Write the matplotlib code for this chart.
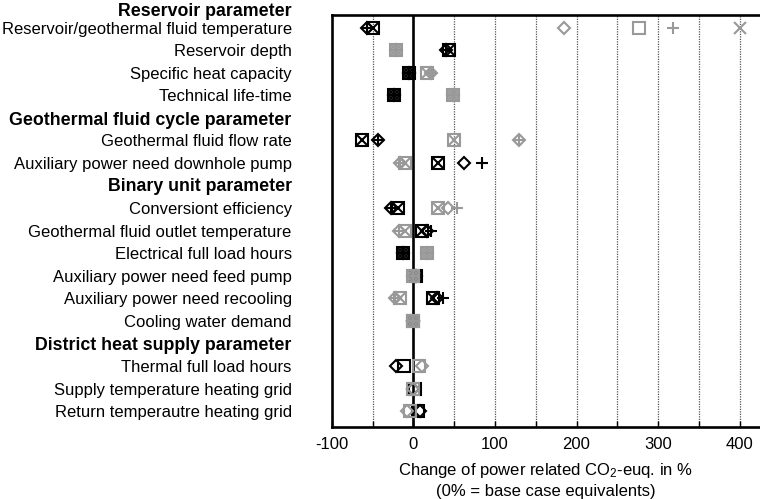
import numpy as np
import matplotlib
matplotlib.use("Agg")
import matplotlib.pyplot as plt

plt.rcParams['font.family'] = ['Liberation Sans', 'DejaVu Sans']
plt.rcParams['mathtext.fontset'] = 'custom'
plt.rcParams['mathtext.rm'] = 'Liberation Sans'
plt.rcParams['mathtext.it'] = 'Liberation Sans'

# --- rows (parameters) ---
labels = ['Reservoir/geothermal fluid temperature', 'Reservoir depth',
          'Specific heat capacity', 'Technical life-time',
          'Geothermal fluid flow rate', 'Auxiliary power need downhole pump',
          'Conversiont efficiency', 'Geothermal fluid outlet temperature',
          'Electrical full load hours', 'Auxiliary power need feed pump',
          'Auxiliary power need recooling', 'Cooling water demand',
          'Thermal full load hours', 'Supply temperature heating grid',
          'Return temperautre heating grid']
slots = [0, 1, 2, 3, 5, 6, 8, 9, 10, 11, 12, 13, 15, 16, 17]

headers = ['Reservoir parameter', 'Geothermal fluid cycle parameter',
           'Binary unit parameter', 'District heat supply parameter']
header_slots = [-0.72, 4.1, 7.05, 14.1]

nan = np.nan
# --- black markers (one variation) ---
low_D = [-57, 40, -6, -24, -43, 62, -27, 16, -13, 3, 29, 0, -21, 0, 8]
low_s = [-50, 44, -6, -24, -63, 30, -19, 11, -13, 3, 24, 0, -12, 2, 5]
low_p = [-57, 40, -6, -24, -43, 84, -27, 22, -13, 3, 36, 0, nan, nan, nan]
low_x = [-50, 44, -6, -24, -63, 30, -19, 11, -13, 3, 24, 0, nan, nan, nan]
# --- grey markers (other variation) ---
high_D = [184, -21, 21, 49, 129, -17, 42, -18, 16, 0, -23, 0, 10, 0, -8]
high_s = [277, -21, 17, 49, 50, -11, 30, -11, 16, 0, -16, 0, 7, -1, -4]
high_p = [318, -21, 21, 49, 129, -17, 53, -18, 16, 0, -23, 0, nan, nan, nan]
high_x = [401, -21, 17, 49, 50, -11, 30, -11, 16, 0, -16, 0, nan, nan, nan]

fig = plt.figure(figsize=(7.6, 4.99), dpi=100)
ax = fig.add_axes([0.4368, 0.1443, 0.5632, 0.8257])

# grid & zero line
for gx in [-50, 50, 100, 150, 200, 250, 300, 350, 400]:
    ax.axvline(gx, color='#555555', lw=0.9, ls=(0, (1, 1)), zorder=1)
ax.axvline(0, color='black', lw=1.9, zorder=2)

# markers
ms = 8.3
mew = 1.5
for vals, col in [((low_D, low_s, low_p, low_x), 'black'),
                  ((high_D, high_s, high_p, high_x), '#999999')]:
    d, s, p, x = vals
    ax.plot(s, slots, ls='none', marker='s', ms=ms, mfc='none', mec=col, mew=mew, zorder=3)
    ax.plot(x, slots, ls='none', marker='x', ms=ms, color=col, mew=mew, zorder=3)
    ax.plot(d, slots, ls='none', marker='D', ms=ms * 0.72, mfc='none', mec=col, mew=mew, zorder=3)
    ax.plot(p, slots, ls='none', marker='+', ms=ms, color=col, mew=mew, zorder=3)

ax.set_xlim(-100, 425)
ax.set_ylim(17.7, -0.56)
ax.set_xticks(np.arange(-100, 425, 50))
ax.set_xticklabels([str(v) if v % 100 == 0 else '' for v in range(-100, 425, 50)])
ax.tick_params(axis='x', direction='in', length=4, width=1, labelsize=12, pad=7)
ax.set_yticks(slots)
ax.set_yticklabels(labels)
ax.tick_params(axis='y', length=0, labelsize=12, pad=29)

for h, hs in zip(headers, header_slots):
    ax.annotate(h, xy=(0, hs), xycoords=('axes fraction', 'data'),
                xytext=(-29, 0), textcoords='offset points',
                ha='right', va='center', fontsize=12.8, fontweight='bold',
                annotation_clip=False)

for side in ['left', 'top', 'bottom']:
    ax.spines[side].set_linewidth(1.9)
ax.spines['right'].set_visible(False)

ax.set_xlabel('Change of power related CO$_2$-euq. in %\n(0% = base case equivalents)',
              fontsize=12, labelpad=7, linespacing=1.3)

fig.savefig('out.png', dpi=100)
